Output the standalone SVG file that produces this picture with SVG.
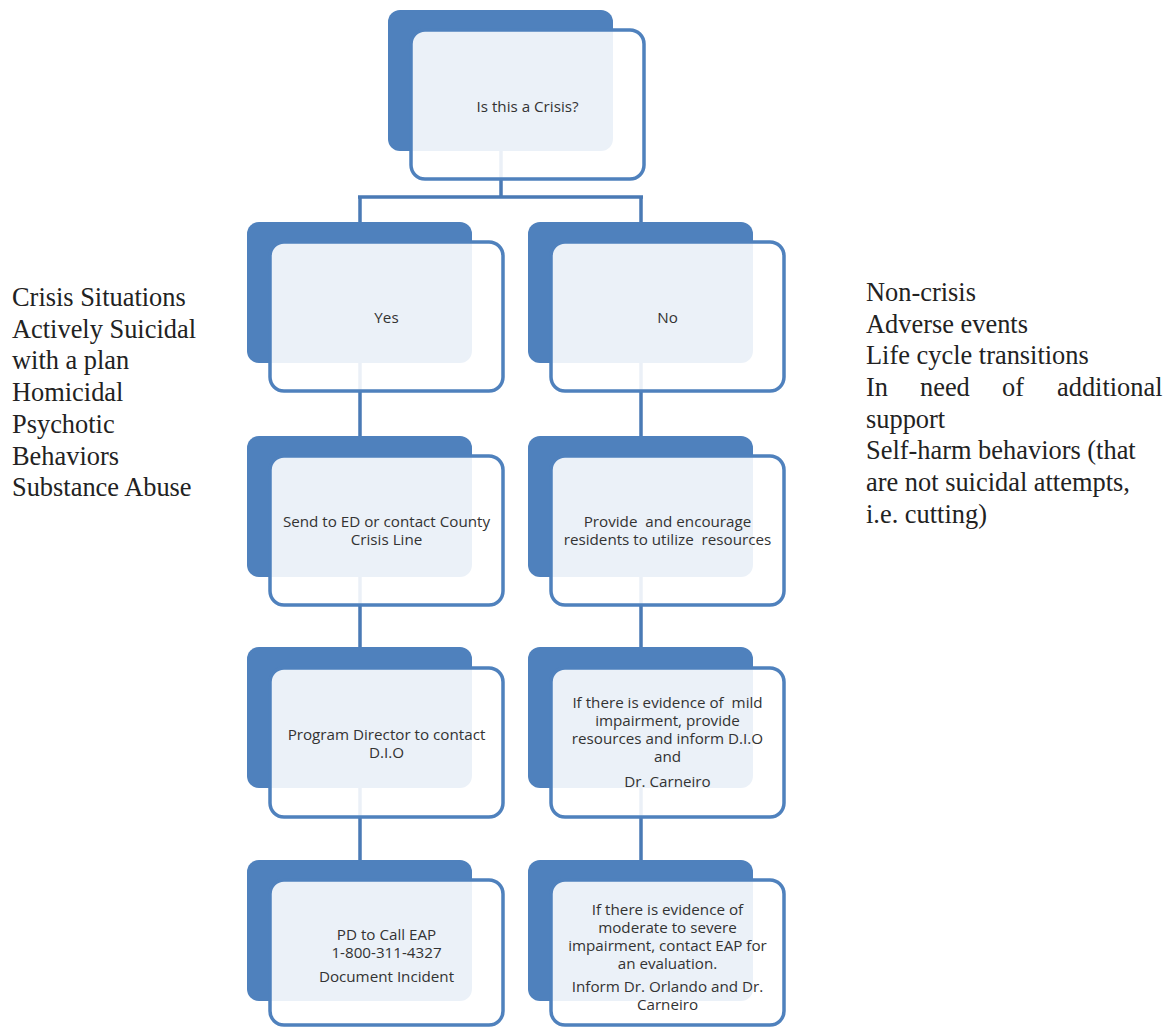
<svg xmlns="http://www.w3.org/2000/svg" width="1173" height="1027" viewBox="0 0 1173 1027">
<style>
.back{fill:#4f81bd;}
.front{fill:#ffffff;fill-opacity:0.89;stroke:#4f81bd;stroke-width:3.5;}
.lbl{font-family:"Open Sans","Liberation Sans",sans-serif;font-size:15.2px;fill:#333333;text-anchor:middle;}
.side{font-family:"Liberation Serif","Times New Roman",serif;font-size:26.4px;fill:#222;}
.conn{fill:none;stroke:#4a7ab5;stroke-width:3.5;}
</style>
<rect width="1173" height="1027" fill="#ffffff"/>
<g id="connectors">
<path class="conn" d="M501 150 V197 M358 197 H643 M360 197 V222 M641 197 V222"/>
<path class="conn" d="M360 363 V436 M360 577 V647 M360 788 V860"/>
<path class="conn" d="M641 363 V436 M641 577 V647 M641 788 V860"/>
</g>
<g id="n-crisis">
<rect class="back" x="388" y="10" width="225" height="141" rx="12"/>
<rect class="front" x="411" y="30" width="233" height="149" rx="14"/>
<text class="lbl" x="527.5" y="112">Is this a Crisis?</text>
</g>
<g id="n-yes">
<rect class="back" x="247" y="222" width="225" height="141" rx="12"/>
<rect class="front" x="270" y="242" width="233" height="149" rx="14"/>
<text class="lbl" x="386.5" y="323">Yes</text>
</g>
<g id="n-no">
<rect class="back" x="528" y="222" width="225" height="141" rx="12"/>
<rect class="front" x="551" y="242" width="233" height="149" rx="14"/>
<text class="lbl" x="667.5" y="323">No</text>
</g>
<g id="n-send-ed">
<rect class="back" x="247" y="436" width="225" height="141" rx="12"/>
<rect class="front" x="270" y="456" width="233" height="149" rx="14"/>
<text class="lbl" x="386.5" y="527">Send to ED or contact County</text>
<text class="lbl" x="386.5" y="545">Crisis Line</text>
</g>
<g id="n-provide">
<rect class="back" x="528" y="436" width="225" height="141" rx="12"/>
<rect class="front" x="551" y="456" width="233" height="149" rx="14"/>
<text class="lbl" x="667.5" y="527" xml:space="preserve">Provide  and encourage</text>
<text class="lbl" x="667.5" y="545" xml:space="preserve">residents to utilize  resources</text>
</g>
<g id="n-pd-dio">
<rect class="back" x="247" y="647" width="225" height="141" rx="12"/>
<rect class="front" x="270" y="668" width="233" height="149" rx="14"/>
<text class="lbl" x="386.5" y="740">Program Director to contact</text>
<text class="lbl" x="386.5" y="758">D.I.O</text>
</g>
<g id="n-mild">
<rect class="back" x="528" y="647" width="225" height="141" rx="12"/>
<rect class="front" x="551" y="668" width="233" height="149" rx="14"/>
<text class="lbl" x="667.5" y="708" xml:space="preserve">If there is evidence of  mild</text>
<text class="lbl" x="667.5" y="726">impairment, provide</text>
<text class="lbl" x="667.5" y="744">resources and inform D.I.O</text>
<text class="lbl" x="667.5" y="762">and</text>
<text class="lbl" x="667.5" y="787">Dr. Carneiro</text>
</g>
<g id="n-eap">
<rect class="back" x="247" y="860" width="225" height="141" rx="12"/>
<rect class="front" x="270" y="880" width="233" height="145" rx="14"/>
<text class="lbl" x="386.5" y="940">PD to Call EAP</text>
<text class="lbl" x="386.5" y="958">1-800-311-4327</text>
<text class="lbl" x="386.5" y="982">Document Incident</text>
</g>
<g id="n-moderate">
<rect class="back" x="528" y="860" width="225" height="141" rx="12"/>
<rect class="front" x="551" y="880" width="233" height="145" rx="14"/>
<text class="lbl" x="667.5" y="915">If there is evidence of</text>
<text class="lbl" x="667.5" y="933">moderate to severe</text>
<text class="lbl" x="667.5" y="951">impairment, contact EAP for</text>
<text class="lbl" x="667.5" y="969">an evaluation.</text>
<text class="lbl" x="667.5" y="992">Inform Dr. Orlando and Dr.</text>
<text class="lbl" x="667.5" y="1010">Carneiro</text>
</g>
<g id="crisis-list">
<text class="side" x="12" y="306">Crisis Situations</text>
<text class="side" x="12" y="337.7">Actively Suicidal</text>
<text class="side" x="12" y="369.4">with a plan</text>
<text class="side" x="12" y="401">Homicidal</text>
<text class="side" x="12" y="432.8">Psychotic</text>
<text class="side" x="12" y="464.5">Behaviors</text>
<text class="side" x="12" y="496">Substance Abuse</text>
</g>
<g id="noncrisis-list">
<text class="side" x="866" y="301">Non-crisis</text>
<text class="side" x="866" y="333">Adverse events</text>
<text class="side" x="866" y="364">Life cycle transitions</text>
<text class="side" y="396"><tspan x="866">In</tspan><tspan x="920">need</tspan><tspan x="1002">of</tspan><tspan x="1057">additional</tspan></text>
<text class="side" x="866" y="428">support</text>
<text class="side" x="866" y="459">Self-harm behaviors (that</text>
<text class="side" x="866" y="491">are not suicidal attempts,</text>
<text class="side" x="866" y="523">i.e. cutting)</text>
</g>
</svg>
